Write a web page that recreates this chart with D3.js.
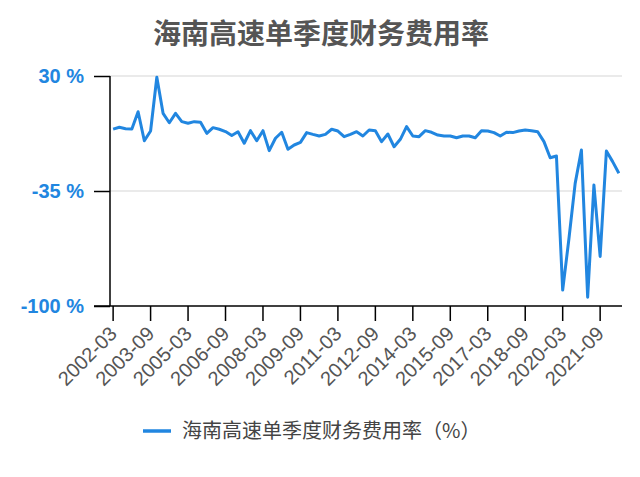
<!DOCTYPE html>
<html>
<head>
<meta charset="utf-8">
<script src="https://cdn.jsdelivr.net/npm/d3@7"></script>
<style>
  body { margin: 0; background: #fff; }
  svg { display: block; font-family: "Liberation Sans", Arial, "Noto Sans CJK SC", sans-serif; }
</style>
</head>
<body>
<svg id="chart" width="640" height="477"></svg>
<script>
const title = '海南高速单季度财务费用率';
const seriesName = '海南高速单季度财务费用率（%）';

const quarters = [
  '2002-03','2002-06','2002-09','2002-12','2003-03','2003-06','2003-09','2003-12',
  '2004-03','2004-06','2004-09','2004-12','2005-03','2005-06','2005-09','2005-12',
  '2006-03','2006-06','2006-09','2006-12','2007-03','2007-06','2007-09','2007-12',
  '2008-03','2008-06','2008-09','2008-12','2009-03','2009-06','2009-09','2009-12',
  '2010-03','2010-06','2010-09','2010-12','2011-03','2011-06','2011-09','2011-12',
  '2012-03','2012-06','2012-09','2012-12','2013-03','2013-06','2013-09','2013-12',
  '2014-03','2014-06','2014-09','2014-12','2015-03','2015-06','2015-09','2015-12',
  '2016-03','2016-06','2016-09','2016-12','2017-03','2017-06','2017-09','2017-12',
  '2018-03','2018-06','2018-09','2018-12','2019-03','2019-06','2019-09','2019-12',
  '2020-03','2020-06','2020-09','2020-12','2021-03','2021-06','2021-09','2021-12',
  '2022-03','2022-06'
];

const rate = [
  0, 1, 0.2, 0, 9.8, -6.6, -1.1, 29.3,
  8.9, 3.6, 8.9, 4.2, 3.3, 4.2, 3.8, -2.4,
  0.8, -0.1, -1.4, -3.6, -1.5, -8, -0.9, -6.6,
  -0.9, -12.2, -5.2, -1.8, -11.4, -9, -7.5, -2,
  -3, -3.9, -3, -0.1, -1.1, -4.3, -3, -1.5,
  -3.9, -0.5, -0.9, -7.1, -2.8, -10, -5.8, 1.4,
  -3.9, -4.3, -0.9, -1.8, -3.4, -3.9, -3.9, -4.9,
  -3.9, -3.9, -4.9, -0.9, -1.1, -2, -3.9, -1.8,
  -2, -1.1, -0.5, -0.9, -1.5, -7.1, -16.2, -15.2,
  -91, -62, -30.7, -11.8, -95, -31.6, -72, -12.4,
  -18.4, -25
];

const xTickLabels = ['2002-03','2003-09','2005-03','2006-09','2008-03','2009-09','2011-03',
  '2012-09','2014-03','2015-09','2017-03','2018-09','2020-03','2021-09'];
const yTicks = [30, -35, -100];

const margin = { top: 76, right: 18, bottom: 171, left: 110 };
const width = 640 - margin.left - margin.right;
const height = 477 - margin.top - margin.bottom;

const blue = '#2186e0';

const svg = d3.select('#chart');

svg.append('text')
  .attr('x', 321)
  .attr('y', 44)
  .attr('text-anchor', 'middle')
  .attr('fill', '#555')
  .style('font-family', '"Noto Sans CJK SC", sans-serif')
  .style('font-size', '28px')
  .style('font-weight', 'bold')
  .text(title);

const g = svg.append('g')
  .attr('transform', `translate(${margin.left}, ${margin.top})`);

const x = d3.scaleBand()
  .domain(quarters)
  .range([0, width]);

const y = d3.scaleLinear()
  .domain([-100, 30])
  .range([height, 0]);

const cx = d => x(d) + x.bandwidth() / 2;

// gridlines
g.append('g')
  .selectAll('line')
  .data(yTicks.filter(t => t !== -100))
  .join('line')
  .attr('x1', 0)
  .attr('x2', width)
  .attr('y1', d => y(d))
  .attr('y2', d => y(d))
  .attr('stroke', '#e3e3e3')
  .attr('stroke-width', 1.5);

// y axis
const yAxis = g.append('g')
  .call(d3.axisLeft(y).tickValues(yTicks).tickSize(16).tickPadding(10).tickFormat(d => d + ' %'));
yAxis.select('.domain').attr('stroke', '#000').attr('stroke-width', 1.5).attr('d', `M0,${y(30)}V${height}`);
yAxis.selectAll('.tick line').attr('stroke', '#000').attr('stroke-width', 1.5);
yAxis.selectAll('.tick text')
  .attr('fill', blue)
  .style('font-size', '20px')
  .style('font-weight', 'bold');

// x axis
const xAxis = g.append('g')
  .attr('transform', `translate(0, ${height})`)
  .call(d3.axisBottom(x).tickValues(xTickLabels).tickSize(15));
xAxis.select('.domain').attr('stroke', '#000').attr('stroke-width', 1.5).attr('d', `M-16,0H${width}`);
xAxis.selectAll('.tick line').attr('stroke', '#000').attr('stroke-width', 1.5);
xAxis.selectAll('.tick text')
  .attr('fill', '#555')
  .style('font-size', '20px')
  .attr('text-anchor', 'end')
  .attr('x', 0)
  .attr('y', 0)
  .attr('dy', null)
  .attr('transform', 'translate(5, 29) rotate(-45)');

// line
g.append('path')
  .datum(rate)
  .attr('fill', 'none')
  .attr('stroke', blue)
  .attr('stroke-width', 3)
  .attr('stroke-linejoin', 'round')
  .attr('d', d3.line()
    .x((d, i) => cx(quarters[i]))
    .y(d => y(d)));

// legend
const legend = svg.append('g').attr('transform', 'translate(143, 431)');
legend.append('line')
  .attr('x1', 0).attr('x2', 28)
  .attr('y1', 0).attr('y2', 0)
  .attr('stroke', blue)
  .attr('stroke-width', 3.5);
legend.append('text')
  .attr('x', 39)
  .attr('y', 7)
  .attr('fill', '#444')
  .style('font-family', '"Noto Sans CJK SC", sans-serif')
  .style('font-size', '20px')
  .text(seriesName);
</script>
</body>
</html>
